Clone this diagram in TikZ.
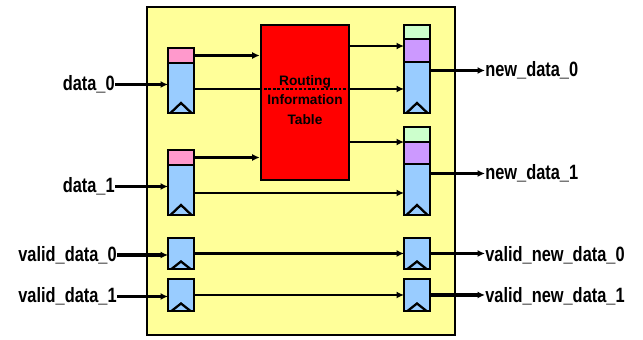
\documentclass[tikz,border=0pt]{standalone}
\usepackage{fontspec}
\setmainfont{Liberation Sans}
\newfontfamily\lblfont[FakeStretch=0.79]{Liberation Sans}
\usepackage{xcolor}
\usetikzlibrary{positioning,arrows.meta,calc}

\definecolor{boxyellow}{HTML}{FFFF99}
\definecolor{ritred}{HTML}{FF0000}
\definecolor{regblue}{HTML}{99CCFF}
\definecolor{tagpink}{HTML}{FF99CC}
\definecolor{tagpurple}{HTML}{CC99FF}
\definecolor{taggreen}{HTML}{CCFFCC}

\begin{document}
\begin{tikzpicture}[
      x=0.02cm, y=-0.02cm,
      reg/.style={draw, line width=1.4pt, fill=regblue, minimum width=0.52cm,
                  inner sep=0pt, outer sep=0pt},
      tag/.style={draw, line width=1.4pt, minimum width=0.52cm,
                  inner sep=0pt, outer sep=0pt},
      sig/.style={line width=1.4pt, -{Latex[length=1.5mm,width=1.4mm]}},
      port/.style={line width=1.9pt, -{Latex[length=1.5mm,width=1.4mm]}},
      lbl/.style={font=\lblfont\bfseries\fontsize{11.8}{13}\selectfont, inner sep=0pt}
  ]
  \useasboundingbox (0,0) rectangle (643,340);

  %% ---- Router block ----
  \node[draw, fill=boxyellow, line width=1.5pt, minimum width=6.16cm,
        minimum height=6.56cm, inner sep=0pt] (router) at (301,171) {};

  %% ---- Routing information table ----
  \node[draw, fill=ritred, line width=1.5pt, minimum width=1.76cm,
        minimum height=3.1cm, inner sep=0pt] (rit) at (305,102.5) {};

  %% ---- Input registers ----
  \node[reg, minimum height=1.0cm] (in_0) at (181,88) {};
  \node[tag, fill=tagpink, minimum height=0.3cm, above=0pt of in_0] (tg_in_0) {};
  \node[reg, minimum height=1.0cm] (in_1) at (181,190) {};
  \node[tag, fill=tagpink, minimum height=0.3cm, above=0pt of in_1] (tg_in_1) {};

  %% ---- Output registers ----
  \node[reg, minimum height=1.02cm] (out_0) at (417,87.5) {};
  \node[tag, fill=tagpurple, minimum height=0.46cm, above=0pt of out_0] (pu_0) {};
  \node[tag, fill=taggreen, minimum height=0.28cm, above=0pt of pu_0] (gr_0) {};
  \node[reg, minimum height=1.02cm] (out_1) at (417,189.5) {};
  \node[tag, fill=tagpurple, minimum height=0.44cm, above=0pt of out_1] (pu_1) {};
  \node[tag, fill=taggreen, minimum height=0.3cm, above=0pt of pu_1] (gr_1) {};

  %% ---- Valid registers ----
  \node[reg, minimum height=0.62cm] (vin_0) at (181,253.5) {};
  \node[reg, minimum height=0.64cm] (vin_1) at (181,295) {};
  \node[reg, minimum height=0.62cm] (vout_0) at (417,253.5) {};
  \node[reg, minimum height=0.64cm] (vout_1) at (417,295) {};

  % clock marks
  \foreach \r in {in_0,in_1,out_0,out_1}
    \draw[line width=1.3pt] ([xshift=0.05cm]\r.south west) -- ([yshift=0.2cm]\r.south)
      -- ([xshift=-0.05cm]\r.south east);
  \foreach \r in {vin_0,vin_1,vout_0,vout_1}
    \draw[line width=1.3pt] ([xshift=0.07cm]\r.south west) -- ([yshift=0.15cm]\r.south)
      -- ([xshift=-0.07cm]\r.south east);

  %% ---- Port labels ----
  \node[lbl, anchor=east] (data_0) at (115,84.5) {data\_0};
  \node[lbl, anchor=east] (data_1) at (115,186.5) {data\_1};
  \node[lbl, anchor=east] (valid_data_0) at (117,255) {valid\_data\_0};
  \node[lbl, anchor=east] (valid_data_1) at (117,296.5) {valid\_data\_1};
  \node[lbl, anchor=west] (new_data_0) at (485,70.5) {new\_data\_0};
  \node[lbl, anchor=west] (new_data_1) at (485,173.5) {new\_data\_1};
  \node[lbl, anchor=west] (valid_new_data_0) at (485,255) {valid\_new\_data\_0};
  \node[lbl, anchor=west] (valid_new_data_1) at (485,296.5) {valid\_new\_data\_1};

  %% ---- Connections ----

  % inputs
  \draw[port] (data_0.east) -- (data_0.east -| in_0.west);
  \draw[port] (data_1.east) -- (data_1.east -| in_1.west);
  \draw[port] (valid_data_0.east) -- (valid_data_0.east -| vin_0.west);
  \draw[port] (valid_data_1.east) -- (valid_data_1.east -| vin_1.west);

  % tags into the table
  \draw[sig] (tg_in_0.east) -- (tg_in_0.east -| rit.west);
  \draw[sig] (tg_in_1.east) -- (tg_in_1.east -| rit.west);

  % data path through (behind) the table
  \draw[line width=1.4pt] ([yshift=-0.02cm]in_0.east) -- ([yshift=-0.02cm]in_0.east -| rit.west);
  \draw[line width=1.5pt, densely dotted] ([yshift=-0.02cm]in_0.east -| rit.west)
      -- ([yshift=-0.02cm]in_0.east -| rit.east);
  \draw[sig] ([yshift=-0.02cm]in_0.east -| rit.east) -- ([yshift=-0.02cm]in_0.east -| out_0.west);
  \draw[sig] ([yshift=-0.06cm]in_1.east) -- ([yshift=-0.06cm]in_1.east -| out_1.west);

  % table to output tags
  \draw[sig] ([yshift=0.09cm]pu_0.west -| rit.east) -- ([yshift=0.09cm]pu_0.west);
  \draw[sig] (pu_1.north west -| rit.east) -- (pu_1.north west);

  % table text on top of the dotted line
  \node[align=center, inner sep=0pt, font=\bfseries\fontsize{7.8}{11.3}\selectfont]
      (rit_text) at ($(rit.center)+(0,0.05cm)$) {Routing\\Information\\Table};

  % valid path
  \draw[sig] (vin_0) -- (vout_0);
  \draw[sig] (vin_1) -- (vout_1);

  % outputs
  \draw[port] (new_data_0.west -| out_0.east) -- (new_data_0.west);
  \draw[port] (new_data_1.west -| out_1.east) -- (new_data_1.west);
  \draw[port] (vout_0.east) -- (vout_0.east -| valid_new_data_0.west);
  \draw[port] (vout_1.east) -- (vout_1.east -| valid_new_data_1.west);

\end{tikzpicture}
\end{document}
